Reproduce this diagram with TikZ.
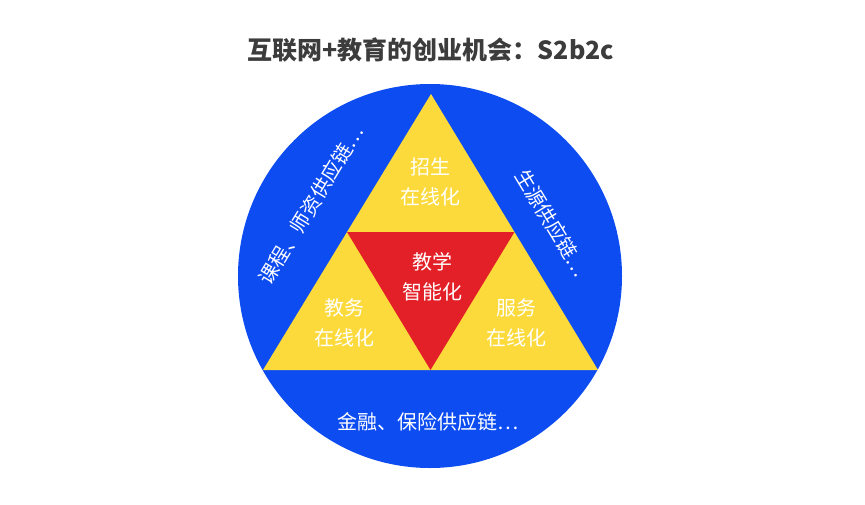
\documentclass[tikz,border=0pt]{standalone}
\usepackage{fontspec}
\usetikzlibrary{calc}
\newfontfamily\cjk{Noto Sans CJK SC}
\definecolor{ringblue}{HTML}{0C4CF1}
\definecolor{triyellow}{HTML}{FCDA3B}
\definecolor{trired}{HTML}{E32027}
\definecolor{titlegray}{HTML}{3C3C3C}
\tikzset{
  lbl/.style={text=white,font=\cjk\fontsize{20}{30}\selectfont,align=center,inner sep=0pt},
  ring/.style={text=white,font=\cjk\fontsize{20}{24}\selectfont,inner sep=0pt}
}
\begin{document}
\begin{tikzpicture}[x=1pt,y=-1pt]
  \useasboundingbox (0,0) rectangle (865,504);
  % Kreis
  \fill[ringblue] (430,276) circle (192);
  % Dreieck aussen
  \coordinate (top) at (431,94);
  \coordinate (bl) at (263,370);
  \coordinate (br) at (598,370);
  \coordinate (ml) at ($(top)!0.5!(bl)$);
  \coordinate (mr) at ($(top)!0.5!(br)$);
  \coordinate (mb) at ($(bl)!0.5!(br)$);
  \fill[triyellow] (top) -- (bl) -- (br) -- cycle;
  % Dreieck innen
  \fill[trired] (ml) -- (mr) -- (mb) -- cycle;
  % Titel
  \node[text=titlegray,font=\cjk\bfseries\fontsize{25}{30}\selectfont] (title) at (431,50) {互联网+教育的创业机会：S2b2c};
  % Beschriftungen im Dreieck
  \node[lbl] (zs) at (430,182) {招生\\在线化};
  \node[lbl] (jx) at (432,277) {教学\\智能化};
  \node[lbl] (jw) at (344,323) {教务\\在线化};
  \node[lbl] (fw) at (516,323) {服务\\在线化};
  % Beschriftungen im Ring
  \node[ring,rotate=58.7] (kc) at (311,205) {课程、师资供应链…};
  \node[ring,rotate=-58.7] (sy) at (552,223) {生源供应链…};
  \node[ring] (jr) at (428,422) {金融、保险供应链…};
\end{tikzpicture}
\end{document}
